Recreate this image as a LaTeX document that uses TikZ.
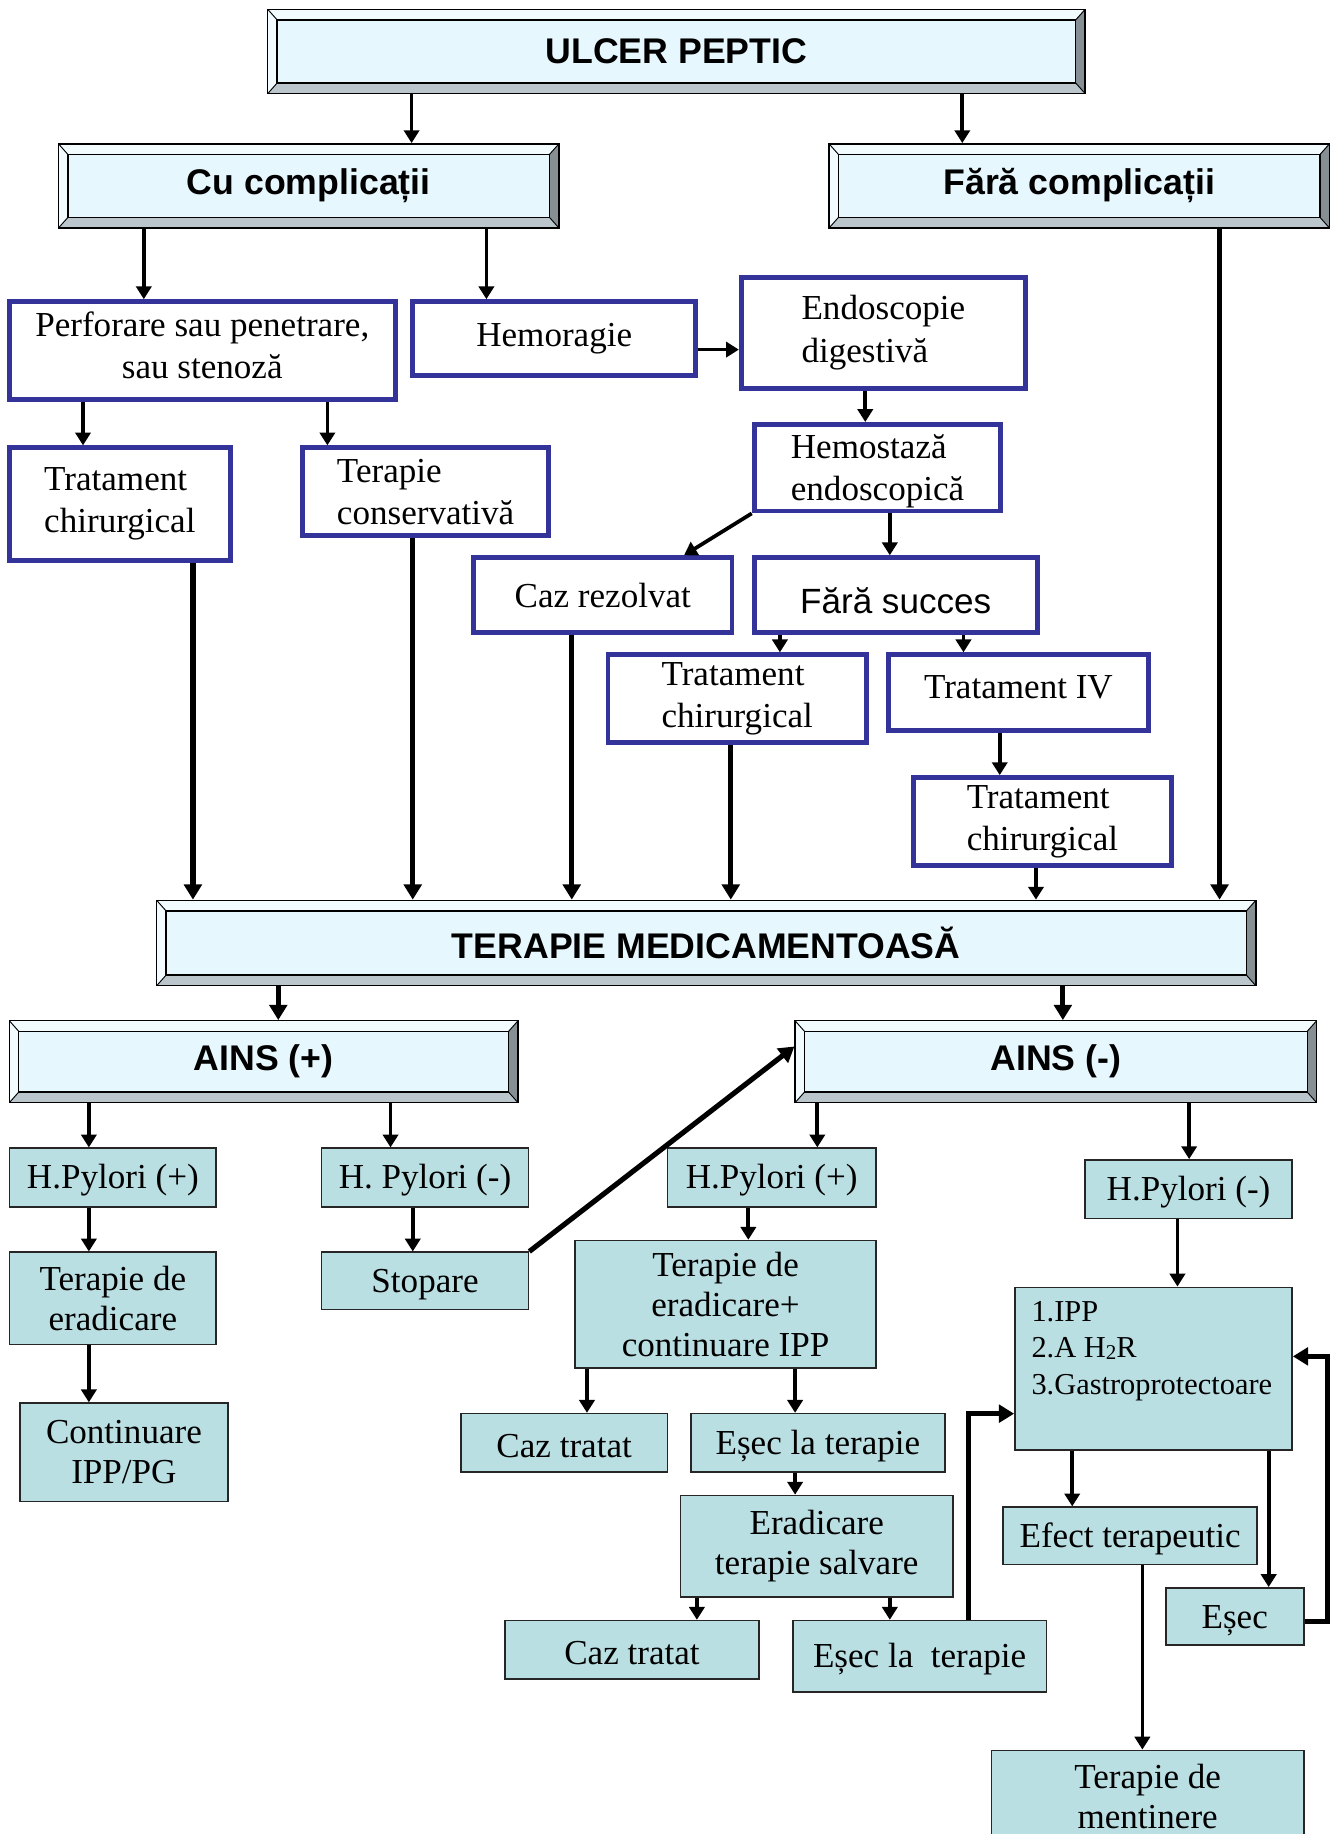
\documentclass[tikz,border=0pt]{standalone}
\usepackage{fontspec}
\setmainfont{Liberation Serif}
\newfontfamily\headfont{Liberation Sans}
\usetikzlibrary{arrows.meta}

\definecolor{navy}{HTML}{333399}
\definecolor{tealfill}{HTML}{BADFE3}
\definecolor{bevface}{HTML}{E6F7FD}
\definecolor{bevlight}{HTML}{F2FBFE}
\definecolor{bevdark}{HTML}{868F94}
\definecolor{bevlow}{HTML}{BAC6CC}

% box from corner (x1,y1) to (x2,y2): \bx[extra]{style}{x1}{y1}{x2}{y2}{name} {text};
\newcommand\bx[7][]{\node[#2,#1,minimum width={#5-#3},minimum height={#6-#4}] (#7) at ({(#3+#5)/2},{(#4+#6)/2})}
% invisible struts that nudge a text up (extra depth) or down (extra height) in its box
\newcommand\depthstrut[1]{\rule[-#1]{0pt}{0pt}}
\newcommand\heightstrut[1]{\rule{0pt}{#1}}

\tikzset{
  x=1pt, y=-1pt,
  base/.style={inner sep=0pt, align=center, font=\fontsize{30}{36}\selectfont},
  bluebox/.style={base, draw=navy, line width=4.2pt, fill=white},
  tealbox/.style={base, draw=black!85, line width=1.4pt, fill=tealfill,
    font=\fontsize{30}{34}\selectfont, execute at begin node={\heightstrut{26pt}}},
  bevel/.style={inner sep=0pt, draw=black, line width=1.2pt, fill=bevface,
    font=\headfont\bfseries\fontsize{30.5}{36}\selectfont,
    path picture={
      \fill[bevlight] (path picture bounding box.north west) -- (path picture bounding box.north east)
        -- ([xshift=-8pt,yshift=-9pt]path picture bounding box.north east)
        -- ([xshift=8pt,yshift=-9pt]path picture bounding box.north west) -- cycle;
      \fill[bevlight] (path picture bounding box.north west) -- ([xshift=8pt,yshift=-9pt]path picture bounding box.north west)
        -- ([xshift=8pt,yshift=9pt]path picture bounding box.south west)
        -- (path picture bounding box.south west) -- cycle;
      \fill[bevdark] (path picture bounding box.north east) -- ([xshift=-8pt,yshift=-9pt]path picture bounding box.north east)
        -- ([xshift=-8pt,yshift=9pt]path picture bounding box.south east)
        -- (path picture bounding box.south east) -- cycle;
      \fill[bevlow] (path picture bounding box.south west) -- ([xshift=8pt,yshift=9pt]path picture bounding box.south west)
        -- ([xshift=-8pt,yshift=9pt]path picture bounding box.south east)
        -- (path picture bounding box.south east) -- cycle;
      \draw[line width=1.2pt] ([xshift=8pt,yshift=-9pt]path picture bounding box.north west)
        rectangle ([xshift=-8pt,yshift=9pt]path picture bounding box.south east);
      \draw[line width=0.8pt] (path picture bounding box.north west) -- ([xshift=8pt,yshift=-9pt]path picture bounding box.north west)
        (path picture bounding box.north east) -- ([xshift=-8pt,yshift=-9pt]path picture bounding box.north east)
        (path picture bounding box.south west) -- ([xshift=8pt,yshift=9pt]path picture bounding box.south west)
        (path picture bounding box.south east) -- ([xshift=-8pt,yshift=9pt]path picture bounding box.south east);
    }},
  arr/.style={line width=3.2pt, -{Triangle[length=11pt,width=13pt]}},
  heavyarr/.style={line width=4.4pt, -{Triangle[length=13pt,width=15pt]}},
}

\begin{document}
\begin{tikzpicture}
\clip (0,0) rectangle (1140,1568.5);
\fill[white] (0,0) rectangle (1140,1568.5);

% ---------- header level ----------
\bx{bevel}{229}{8}{928}{80}{ulcer} {ULCER PEPTIC};
\bx{bevel}{50}{123}{478}{195}{cu} {Cu complicații};
\bx{bevel}{709}{123}{1137}{195}{fara} {Fără complicații};

% ---------- complications branch ----------
\bx{bluebox}{8}{258}{338}{342}{perf} {Perforare sau penetrare,\\ sau stenoză\depthstrut{10pt}};
\bx{bluebox}{353}{258}{595}{321}{hemo} {Hemoragie};
\bx[align=left]{bluebox}{634}{237}{877}{332}{endo} {Endoscopie\\digestivă};
\bx[align=left]{bluebox}{8}{383}{197}{479}{trat1} {Tratament\\chirurgical};
\bx[align=left]{bluebox}{259}{383}{469}{458}{terc} {Terapie\\conservativă};
\bx[align=left]{bluebox}{645}{363}{856}{437}{hemost} {\heightstrut{26pt}Hemostază\\endoscopică};
\bx{bluebox}{405}{477}{626}{541}{caz} {Caz rezolvat};
\bx[font=\headfont\fontsize{30}{36}\selectfont]{bluebox}{645}{477}{887}{541}{fsucc} {\heightstrut{32pt}Fără succes};
\bx[align=left]{bluebox}{520}{560}{741}{635}{trat2} {Tratament\\chirurgical};
\bx{bluebox}{760}{560}{982}{625}{tiv} {Tratament IV\depthstrut{10pt}};
\bx[align=left]{bluebox}{781}{665}{1002}{740}{trat3} {Tratament\\chirurgical};

% ---------- drug therapy ----------
\bx{bevel}{134}{770}{1074}{843}{tm} {TERAPIE MEDICAMENTOASĂ};
\bx{bevel}{8}{873}{443}{943}{ainsp} {AINS (+)};
\bx{bevel}{680}{873}{1126}{943}{ainsm} {AINS (-)};

% ---------- AINS (+) ----------
\bx{tealbox}{8}{982}{185}{1032}{hp1} {H.Pylori (+)};
\bx{tealbox}{275}{982}{452}{1032}{hpm1} {H. Pylori (-)};
\bx{tealbox}{8}{1071}{185}{1150}{ter1} {Terapie de\\eradicare};
\bx{tealbox}{17}{1200}{195}{1284}{cont} {Continuare\\IPP/PG};
\bx{tealbox}{275}{1071}{452}{1120}{stop} {Stopare};

% ---------- AINS (-) ----------
\bx{tealbox}{571}{982}{749}{1032}{hp2} {H.Pylori (+)};
\bx{tealbox}{928}{992}{1105}{1042}{hpm2} {H.Pylori (-)};
\bx{tealbox}{492}{1061}{749}{1170}{terer} {Terapie de\\eradicare+\\continuare IPP};
\bx{tealbox}{394}{1209}{571}{1259}{caz1} {Caz tratat};
\bx{tealbox}{591}{1209}{808}{1259}{esec1} {Eșec la terapie};
\bx{tealbox}{582}{1279}{815}{1366}{erad} {Eradicare\\terapie salvare};
\bx{tealbox}{432}{1386}{649}{1436}{caz2} {Caz tratat};
\bx{tealbox}{678}{1386}{895}{1447}{esec2} {Eșec la~ terapie};
\bx{tealbox}{868}{1101}{1105}{1240}{ipp} {};
\node[anchor=north west, inner sep=0pt, align=left, font=\fontsize{26}{31}\selectfont]
  (ipptxt) at (882,1113) {1.IPP\\2.A H\raisebox{-1pt}{\fontsize{18}{18}\selectfont 2}R\\3.Gastroprotectoare};
\bx{tealbox}{858}{1289}{1075}{1338}{efect} {Efect terapeutic};
\bx{tealbox}{997}{1358}{1115}{1407}{esec} {Eșec};
\bx{tealbox}{848}{1497}{1115}{1576}{maint} {Terapie de\\mentinere};

% ---------- connectors: upper part ----------
\draw[arr] (352,0 |- ulcer.south) -- (352,0 |- cu.north);
\draw[arr] (823,0 |- ulcer.south) -- (823,0 |- fara.north);
\draw[arr] (123,0 |- cu.south) -- (123,0 |- perf.north);
\draw[arr] (416,0 |- cu.south) -- (416,0 |- hemo.north);
\draw[arr] (hemo.east |- 0,299) -- (endo.west |- 0,299);
\draw[arr] (71,0 |- perf.south) -- (71,0 |- trat1.north);
\draw[arr] (280,0 |- perf.south) -- (280,0 |- terc.north);
\draw[arr] (740,0 |- endo.south) -- (740,0 |- hemost.north);
\draw[arr] (hemost.south west) -- (585,0 |- caz.north);
\draw[arr] (761,0 |- hemost.south) -- (761,0 |- fsucc.north);
\draw[arr] (667,0 |- fsucc.south) -- (667,0 |- trat2.north);
\draw[arr] (824,0 |- fsucc.south) -- (824,0 |- tiv.north);
\draw[arr] (855,0 |- tiv.south) -- (855,0 |- trat3.north);

% ---------- connectors into the drug therapy bar ----------
\draw[heavyarr] (165,0 |- trat1.south) -- (165,0 |- tm.north);
\draw[heavyarr] (353,0 |- terc.south) -- (353,0 |- tm.north);
\draw[heavyarr] (489,0 |- caz.south) -- (489,0 |- tm.north);
\draw[heavyarr] (625,0 |- trat2.south) -- (625,0 |- tm.north);
\draw[arr] (886,0 |- trat3.south) -- (886,0 |- tm.north);
\draw[heavyarr] (1043,0 |- fara.south) -- (1043,0 |- tm.north);
\draw[heavyarr] (238,0 |- tm.south) -- (238,0 |- ainsp.north);
\draw[heavyarr] (909,0 |- tm.south) -- (909,0 |- ainsm.north);

% ---------- connectors: AINS (+) ----------
\draw[arr] (76,0 |- ainsp.south) -- (76,0 |- hp1.north);
\draw[arr] (334,0 |- ainsp.south) -- (334,0 |- hpm1.north);
\draw[arr] (76,0 |- hp1.south) -- (76,0 |- ter1.north);
\draw[arr] (76,0 |- ter1.south) -- (76,0 |- cont.north);
\draw[arr] (353,0 |- hpm1.south) -- (353,0 |- stop.north);
\draw[heavyarr] (stop.north east) -- (ainsm.west |- 0,895);

% ---------- connectors: AINS (-) ----------
\draw[arr] (699,0 |- ainsm.south) -- (699,0 |- hp2.north);
\draw[arr] (1017,0 |- ainsm.south) -- (1017,0 |- hpm2.north);
\draw[arr] (640,0 |- hp2.south) -- (640,0 |- terer.north);
\draw[arr] (502,0 |- terer.south) -- (502,0 |- caz1.north);
\draw[arr] (680,0 |- terer.south) -- (680,0 |- esec1.north);
\draw[arr] (680,0 |- esec1.south) -- (680,0 |- erad.north);
\draw[arr] (596,0 |- erad.south) -- (596,0 |- caz2.north);
\draw[arr] (761,0 |- erad.south) -- (761,0 |- esec2.north);
\draw[arr] (1007,0 |- hpm2.south) -- (1007,0 |- ipp.north);
\draw[heavyarr] (828,0 |- esec2.north) |- (ipp.west |- 0,1209);
\draw[arr] (917,0 |- ipp.south) -- (917,0 |- efect.north);
\draw[arr] (1085,0 |- ipp.south) -- (1085,0 |- esec.north);
\draw[heavyarr] (esec.east |- 0,1387) -- (1135,1387) |- (ipp.east |- 0,1160);
\draw[arr] (977,0 |- efect.south) -- (977,0 |- maint.north);
\end{tikzpicture}
\end{document}
